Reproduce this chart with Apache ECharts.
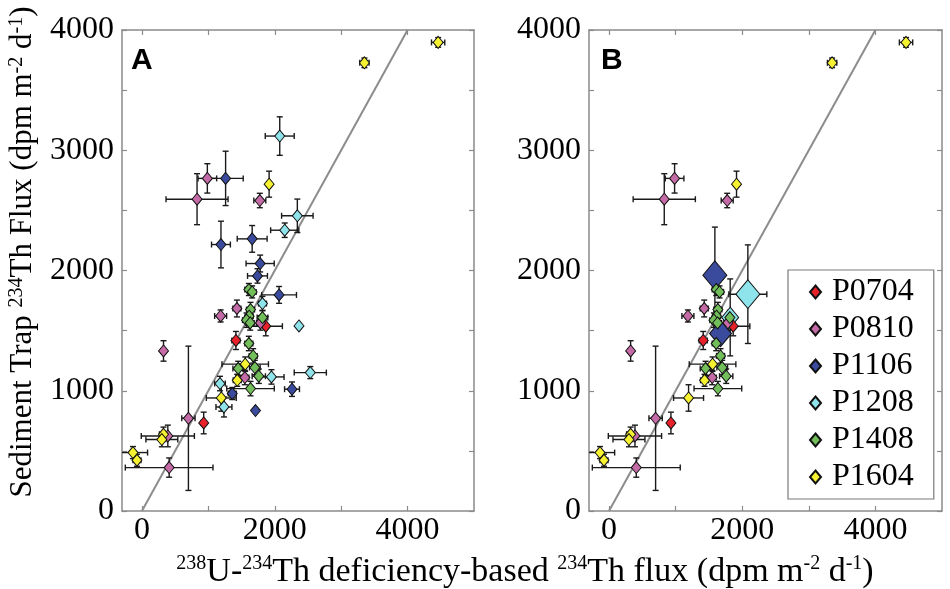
<!DOCTYPE html>
<html>
<head>
<meta charset="utf-8">
<script src="https://cdn.jsdelivr.net/npm/echarts@6/dist/echarts.min.js"></script>
<style>
  html, body { margin: 0; padding: 0; background: #fff; }
  #chart { width: 950px; height: 589px; }
</style>
</head>
<body>
<div id="chart"></div>
<script>
// tick positions
var ticksX = [0, 1000, 2000, 3000, 4000];
var labelsX = [0, 2000, 4000];
var names = ['P0704', 'P0810', 'P1106', 'P1208', 'P1408', 'P1604'];
var colors = ['#e8202a', '#c46aa6', '#3a4a9c', '#8fe3ea', '#72be5a', '#f6f232'];

// [x, y, xerr, yerr]
var p0704 = [[1865, 1537, 250, 80], [1415, 1418, 60, 75], [930, 732, 40, 90]];
var p0810 = [[985, 2766, 140, 122], [830, 2593, 467, 212], [1775, 2582, 90, 60], [1430, 1684, 60, 70],
             [1185, 1622, 90, 50], [1785, 1564, 60, 60], [325, 1331, 40, 85], [1550, 1110, 60, 60],
             [700, 771, 100, 600], [390, 624, 400, 90], [410, 361, 660, 80]];
var p1106 = [[1260, 2766, 265, 226], [1660, 2263, 225, 111], [1190, 2216, 142, 194], [1780, 2058, 212, 70],
             [1740, 1955, 150, 60], [2065, 1797, 262, 70], [1360, 977, 60, 50], [2260, 1013, 112, 60],
             [1710, 835, 0, 0]];
var p1208 = [[2075, 3118, 218, 160], [2340, 2455, 237, 139], [2150, 2335, 212, 60], [1815, 1725, 60, 60],
             [2365, 1539, 0, 0], [1950, 1115, 190, 60], [2535, 1151, 242, 50], [1175, 1060, 80, 60],
             [1235, 865, 120, 83]];
var p1408 = [[1610, 1842, 60, 50], [1660, 1822, 60, 50], [1635, 1675, 60, 60], [1615, 1620, 60, 60],
             [1815, 1609, 80, 60], [1575, 1587, 60, 60], [1630, 1564, 60, 60], [1610, 1393, 60, 60],
             [1675, 1290, 60, 60], [1450, 1185, 80, 60], [1700, 1193, 80, 60], [1760, 1121, 100, 60],
             [1635, 1018, 358, 60]];
var p1604 = [[4460, 3897, 100, 40], [3350, 3727, 70, 40], [1915, 2718, 30, 108], [1555, 1221, 350, 60],
             [1435, 1087, 60, 50], [1195, 940, 225, 110], [325, 638, 60, 60], [300, 594, 240, 60],
             [-135, 486, 220, 50], [-75, 422, 60, 50]];
// panel B means: [x, y, xerr, yerr, size]
var p1106Mean = [[1590, 1961, 0, 400, 24], [1675, 1476, 0, 0, 22]];
var p1208Mean = [[2085, 1803, 285, 410, 24], [1820, 1610, 0, 320, 17]];
var oneToOne = [[0, 0], [4000, 4000]];

var serif = "'Liberation Serif', 'Times New Roman', serif";
var chart = echarts.init(document.getElementById('chart'));

/* 误差线 */
function renderErr(params, api){
    var x = api.value(0), y = api.value(1), xe = api.value(2), ye = api.value(3);
    var cap = 3;
    var st = { stroke: '#1a1a1a', lineWidth: 1.4 };
    var kids = [];
    if (xe > 0) {
        var l = api.coord([x - xe, y]), r = api.coord([x + xe, y]);
        kids.push({ type: 'line', shape: { x1: l[0], y1: l[1], x2: r[0], y2: r[1] }, style: st });
        kids.push({ type: 'line', shape: { x1: l[0], y1: l[1] - cap, x2: l[0], y2: l[1] + cap }, style: st });
        kids.push({ type: 'line', shape: { x1: r[0], y1: r[1] - cap, x2: r[0], y2: r[1] + cap }, style: st });
    }
    if (ye > 0) {
        var b = api.coord([x, y - ye]), t = api.coord([x, y + ye]);
        kids.push({ type: 'line', shape: { x1: b[0], y1: b[1], x2: t[0], y2: t[1] }, style: st });
        kids.push({ type: 'line', shape: { x1: b[0] - cap, y1: b[1], x2: b[0] + cap, y2: b[1] }, style: st });
        kids.push({ type: 'line', shape: { x1: t[0] - cap, y1: t[1], x2: t[0] + cap, y2: t[1] }, style: st });
    }
    return { type: 'group', children: kids };
}

function pointSeries(panel, idx, data, big){
    var ax = panel * 2;
    return [{
        name: names[idx] + '_err',
        type: 'custom',
        xAxisIndex: ax, yAxisIndex: ax,
        clip: true,
        silent: true,
        renderItem: renderErr,
        encode: { x: 0, y: 1 },
        data: data
    }, {
        name: names[idx],
        type: 'scatter',
        xAxisIndex: ax, yAxisIndex: ax,
        symbol: 'diamond',
        symbolSize: big ? function (v) { return [v[4], v[4] * 1.2]; } : [10, 12],
        itemStyle: { color: colors[idx], borderColor: '#111', borderWidth: 1, opacity: 1 },
        encode: { x: 0, y: 1 },
        data: data
    }];
}

function refLine(panel){
    return {
        name: 'ref' + panel,
        type: 'line',
        xAxisIndex: panel * 2, yAxisIndex: panel * 2,
        data: oneToOne,
        showSymbol: false,
        silent: true,
        lineStyle: { color: '#8c8c8c', width: 2 },
        z: 1
    };
}

var series = [refLine(0), refLine(1)];
var dataA = [p0704, p0810, p1106, p1208, p1408, p1604];
dataA.forEach(function (d, i) { series = series.concat(pointSeries(0, i, d, false)); });
series = series.concat(pointSeries(1, 2, p1106Mean, true));
series = series.concat(pointSeries(1, 3, p1208Mean, true));
[[0, p0704], [1, p0810], [4, p1408], [5, p1604]].forEach(function (e) {
    series = series.concat(pointSeries(1, e[0], e[1], false));
});

var axisLine = { onZero: false, lineStyle: { color: '#8a8a8a', width: 1.5 } };
var axisTick = { inside: true, length: 5, lineStyle: { color: '#8a8a8a', width: 1.2 } };
function plain(v){ return String(v); }

function xAxes(grid){
    return [{
        gridIndex: grid, type: 'value', position: 'bottom', min: -300, max: 5000,
        axisLine: axisLine,
        axisTick: Object.assign({ customValues: ticksX }, axisTick),
        axisLabel: { customValues: labelsX, margin: 4, color: '#000', fontFamily: serif, fontSize: 32, formatter: plain },
        splitLine: { show: false }
    }, {
        gridIndex: grid, type: 'value', position: 'top', min: -300, max: 5000,
        axisLine: axisLine,
        axisTick: Object.assign({ customValues: ticksX }, axisTick),
        axisLabel: { show: false },
        splitLine: { show: false }
    }];
}
function yAxes(grid){
    return [{
        gridIndex: grid, type: 'value', position: 'left', min: 0, max: 4000, interval: 500,
        axisLine: axisLine, axisTick: axisTick,
        axisLabel: {
            margin: 8, color: '#000', fontFamily: serif, fontSize: 32,
            formatter: function (v) { return v % 1000 === 0 ? String(v) : ''; }
        },
        splitLine: { show: false }
    }, {
        gridIndex: grid, type: 'value', position: 'right', min: 0, max: 4000, interval: 500,
        axisLine: axisLine, axisTick: axisTick,
        axisLabel: { show: false },
        splitLine: { show: false }
    }];
}

var sup = { fontFamily: serif, fontSize: 20, lineHeight: 20, verticalAlign: 'top', fill: '#000' };
var option = {
    animation: false,
    backgroundColor: '#fff',
    grid: [
        { left: 122, top: 30, width: 352, height: 481 },
        { left: 589, top: 30, width: 353, height: 481 }
    ],
    xAxis: xAxes(0).concat(xAxes(1)),
    yAxis: yAxes(0).concat(yAxes(1)),
    legend: {
        orient: 'vertical',
        left: 788, top: 270,
        padding: [6, 20, 6, 21],
        itemGap: 5,
        itemWidth: 11, itemHeight: 13,
        symbolKeepAspect: false,
        backgroundColor: '#fff',
        borderColor: '#7a7a7a', borderWidth: 1.2, borderRadius: 0,
        textStyle: { color: '#000', fontFamily: serif, fontSize: 32, lineHeight: 32, padding: [0, 0, 0, 6] },
        data: names.map(function (n) { return { name: n, icon: 'diamond' }; })
    },
    graphic: [
        { type: 'text', x: 131, y: 46, style: { text: 'A', font: 'bold 30px "Liberation Sans", Arial, sans-serif', fill: '#000' } },
        { type: 'text', x: 601, y: 46, style: { text: 'B', font: 'bold 30px "Liberation Sans", Arial, sans-serif', fill: '#000' } },
        {
            type: 'text', x: 525, y: 572,
            style: {
                text: '{s|238}{t|U-}{s|234}{t|Th deficiency-based }{s|234}{t|Th flux (dpm m}{s|-2}{t| d}{s|-1}{t|)}',
                align: 'center', verticalAlign: 'middle',
                rich: { t: { fontFamily: serif, fontSize: 34, lineHeight: 36, fill: '#000' }, s: sup }
            }
        },
        {
            type: 'text', x: 23, y: 252, rotation: Math.PI / 2,
            style: {
                text: '{t|Sediment Trap }{s|234}{t|Th Flux (dpm m}{s|-2}{t| d}{s|-1}{t|)}',
                align: 'center', verticalAlign: 'middle',
                rich: { t: { fontFamily: serif, fontSize: 31, lineHeight: 33, fill: '#000' }, s: sup }
            }
        }
    ],
    series: series
};
chart.setOption(option);
</script>
</body>
</html>
